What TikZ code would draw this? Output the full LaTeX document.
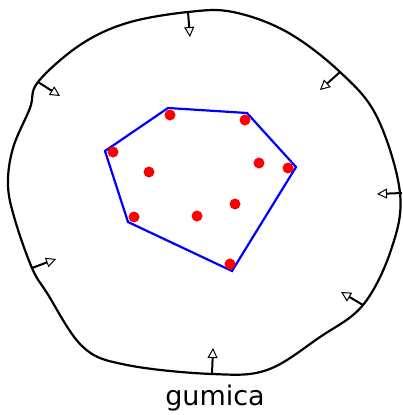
\documentclass[tikz,border=0pt]{standalone}
\usepackage{fontspec}
\setmainfont{DejaVu Sans}
\usetikzlibrary{arrows.meta}
\tikzset{
  band/.style={draw=black,line width=2.2pt,line join=round},
  pull/.style={-{Triangle[open,length=10pt,width=10pt,line width=1pt]},line width=2pt},
  hull/.style={draw=blue,line width=2.2pt,line join=miter},
  dot/.style={fill=red},
}

\begin{document}
\begin{tikzpicture}[x=1pt,y=-1pt]
  \useasboundingbox (0,0) rectangle (402,415);
  % rubber band
  \draw[band] plot[smooth cycle,tension=0.6] coordinates {
    (38,82) (80,45) (127,23) (188,12) (233,12) (287,32) (340,72)
    (377,117) (400,193) (391,250) (363,305) (320,337)
    (267,370) (212,374) (127,365) (83,347) (47,293)
    (32,268) (15,220) (8,185) (13,148) (30,108)};
  % pull arrows
  \foreach \bx/\by/\tx/\ty in {188/12/190/37, 340/72/320/90, 402/193/377/194,
      363/305/341/292, 212/374/213/348, 32/268/56/259, 38/82/60/96} {
    \coordinate (base) at (\bx,\by);
    \coordinate (tip) at (\tx,\ty);
    \draw[pull] (base) -- (tip);
  }
  % convex hull
  \draw[hull] (105,151) coordinate (h1) -- (168,108) coordinate (h2)
    -- (247,113) coordinate (h3) -- (296,167) coordinate (h4)
    -- (232,271) coordinate (h5) -- (128,222) coordinate (h6) -- cycle;
  % points
  \foreach \px/\py in {170/115, 245/120, 113/152, 149/172, 259/163,
      288/168, 235/204, 197/216, 134/217, 230/264}
    \fill[dot] (\px,\py) circle (5.5);
  \node[font=\fontsize{27}{30}\selectfont] (label) at (215,398) {gumica};
\end{tikzpicture}
\end{document}
